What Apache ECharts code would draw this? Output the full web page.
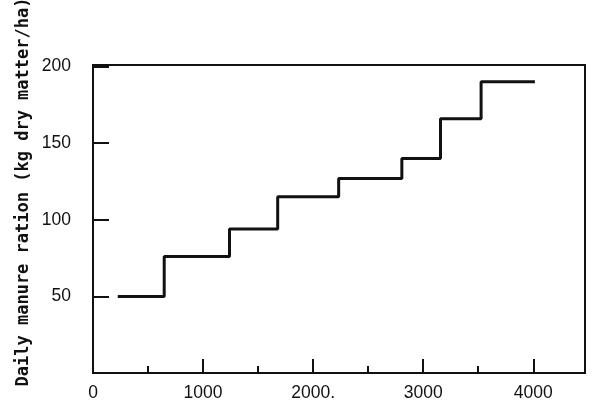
<!DOCTYPE html>
<html>
<head>
<meta charset="utf-8">
<script src="https://cdn.jsdelivr.net/npm/echarts@6/dist/echarts.min.js"></script>
<style>html,body{margin:0;padding:0;background:#fff}#c{width:600px;height:406px}</style>
</head>
<body>
<div id="c"></div>
<script>
// Change points (x) and ration level (y) of the step line
var stepX = [225, 647, 1240, 1678, 2232, 2806, 3157, 3526, 4015];
var stepLevels = [50, 76, 94, 115, 127, 140, 166, 190];
var xTickValues = [0, 1000, 2000, 3000, 4000];
var xTickLabels = ['0', '1000', '2000.', '3000', '4000'];
var yTickValues = [50, 100, 150, 200];
var yTickLabels = ['50', '100', '150', '200'];
var yTitle = 'Daily manure ration (kg dry matter/ha)';

var data = [];
for (var i = 0; i < stepLevels.length; i++) data.push([stepX[i], stepLevels[i]]);
data.push([stepX[stepX.length - 1], stepLevels[stepLevels.length - 1]]);

var chart = echarts.init(document.getElementById('c'));
var ink = '#111';
chart.setOption({
  animation: false,
  grid: { left: 93, top: 65, right: 15, bottom: 33, show: true, borderColor: ink, borderWidth: 2, backgroundColor: 'transparent' },
  xAxis: {
    type: 'value', min: 0, max: 4470, interval: 1000,
    axisLine: { show: true, lineStyle: { color: ink, width: 2 } },
    axisTick: { show: true, inside: true, length: 14, lineStyle: { color: ink, width: 2 } },
    minorTick: { show: true, splitNumber: 2, length: 7, lineStyle: { color: ink, width: 2 } },
    splitLine: { show: false },
    axisLabel: {
      showMaxLabel: false, margin: 11, color: ink, fontFamily: 'Liberation Sans', fontSize: 17.5,
      formatter: function (v) { var k = xTickValues.indexOf(v); return k >= 0 ? xTickLabels[k] : ''; }
    }
  },
  yAxis: {
    type: 'value', min: 0, max: 201, interval: 50,
    axisLine: { show: true, lineStyle: { color: ink, width: 2 } },
    axisTick: { show: true, inside: true, length: 16, lineStyle: { color: ink, width: 2 } },
    splitLine: { show: false },
    axisLabel: {
      margin: 22, color: ink, fontFamily: 'Liberation Sans', fontSize: 17.5,
      formatter: function (v) { var k = yTickValues.indexOf(v); return k >= 0 ? yTickLabels[k] : ''; }
    }
  },
  graphic: [{
    type: 'text', x: 24, y: 192, rotation: Math.PI / 2,
    style: { text: yTitle, fill: ink, font: 'bold 17px "DejaVu Sans Mono"', align: 'center', verticalAlign: 'middle' }
  }],
  series: [{
    type: 'line', step: 'end', data: data, showSymbol: false, symbol: 'none',
    lineStyle: { color: ink, width: 3 }
  }]
});
</script>
</body>
</html>
